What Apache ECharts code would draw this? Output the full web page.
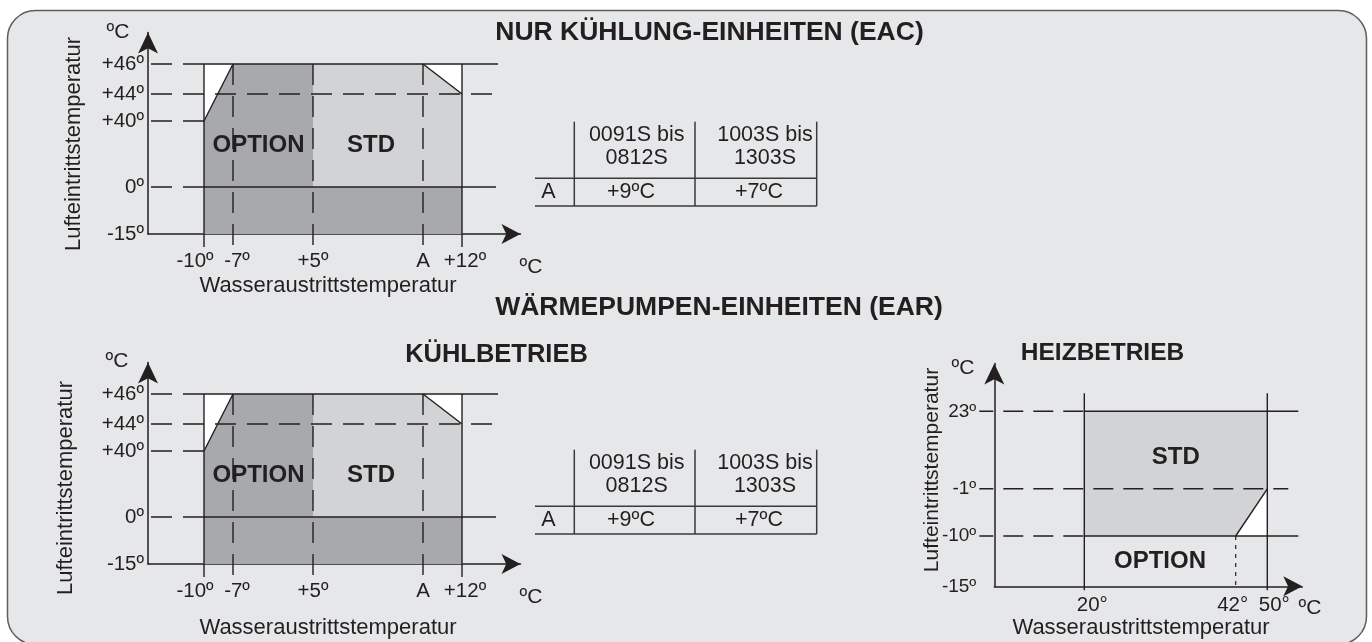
<!DOCTYPE html>
<html><head><meta charset="utf-8">
<script src="https://cdn.jsdelivr.net/npm/echarts@6/dist/echarts.min.js"></script>
<style>html,body{margin:0;padding:0;background:#fff}#c{width:1372px;height:642px}</style>
</head><body><div id="c"></div>
<script>
// ---------------- DATA ----------------
const mainTitles = ['NUR KÜHLUNG-EINHEITEN (EAC)', 'WÄRMEPUMPEN-EINHEITEN (EAR)'];
const subTitles = ['KÜHLBETRIEB', 'HEIZBETRIEB'];
const yAxisTitle = 'Lufteintrittstemperatur';
const xAxisTitle = 'Wasseraustrittstemperatur';
const unitLabel = 'ºC';

// Cooling envelope (same for EAC and EAR cooling mode)
const coolA = 9; // "A" limit (+9ºC for 0091S–0812S, +7ºC for 1003S–1303S)
const coolXTemps = [-10, -7, 5, coolA, 12];
const coolXLabels = ['-10º', '-7º', '+5º', 'A', '+12º'];
const coolYTemps = [-15, 0, 40, 44, 46];
const coolYLabels = ['-15º', '0º', '+40º', '+44º', '+46º'];
const coolEnvelope = [[-10, -15], [-10, 40], [-7, 46], [coolA, 46], [12, 44], [12, -15]];
const coolStd = [[5, 0], [5, 46], [coolA, 46], [12, 44], [12, 0]];
const coolCutLeft = [[-10, 40], [-10, 46], [-7, 46]];
const coolCutRight = [[coolA, 46], [12, 46], [12, 44]];
const coolRegionLabels = ['OPTION', 'STD'];

// Heating envelope
const heatXTemps = [20, 42, 50];
const heatXLabels = ['20°', '42°', '50°'];
const heatYTemps = [-15, -10, -1, 23];
const heatYLabels = ['-15º', '-10º', '-1º', '23º'];
const heatStd = [[20, 23], [50, 23], [50, -1], [42, -10], [20, -10]];
const heatCut = [[42, -10], [50, -1], [50, -10]];
const heatRegionLabels = ['STD', 'OPTION'];

// Table
const tableColHeads = ['0091S bis\n0812S', '1003S bis\n1303S'];
const tableRowHead = 'A';
const tableRowValues = ['+9ºC', '+7ºC'];

// ---------------- LAYOUT (schematic, not-to-scale axes) ----------------
const COOL_X_UNITS = [56, 85, 165, 275, 314];
const COOL_Y_UNITS = [0, 47, 113, 140, 170];
const HEAT_X_UNITS = [90, 241.4, 273];
const HEAT_Y_UNITS = [0, 50.3, 97.5, 175];

const INK = '#231f20';
const DARK = '#a7a9ac', LIGHT = '#d1d3d4', PANEL = '#e6e7e8', WHITE = '#ffffff';
const FONT = '"Liberation Sans", Arial, Helvetica, sans-serif';
const fnt = (s, b) => (b ? 'bold ' : '') + s + 'px ' + FONT;

function scale(temps, units) {
  return function (t) {
    let i = 0;
    while (i < temps.length - 2 && t > temps[i + 1]) i++;
    return units[i] + (t - temps[i]) * (units[i + 1] - units[i]) / (temps[i + 1] - temps[i]);
  };
}
function seg(a, b, dash, off, w) {
  return { type: 'line', shape: { x1: a[0], y1: a[1], x2: b[0], y2: b[1] },
    style: { stroke: INK, lineWidth: w || 1.4, lineDash: dash || null, lineDashOffset: off || 0 } };
}
function poly(pts, fill) { return { type: 'polygon', shape: { points: pts }, style: { fill: fill, stroke: null } }; }
function txt(x, y, text, font) {
  return { type: 'text', x: x, y: y, style: { text: text, font: font, fill: INK, align: 'center', verticalAlign: 'middle', textAlign: 'center', textVerticalAlign: 'middle' } };
}

function coolRender(params, api) {
  const sx = scale(coolXTemps, COOL_X_UNITS), sy = scale(coolYTemps, COOL_Y_UNITS);
  const P = p => api.coord([sx(p[0]), sy(p[1])]);
  const X = t => api.coord([sx(t), 0])[0];
  const Y = t => api.coord([0, sy(t)])[1];
  const o = api.coord([0, 0]);
  const [xm10, xm7, x5, xA, x12] = coolXTemps;
  const [ym15, y0, y40, y44, y46] = coolYTemps;
  const D = [21, 11];
  const ch = [
    poly(coolEnvelope.map(P), DARK),
    poly(coolStd.map(P), LIGHT),
    poly(coolCutLeft.map(P), WHITE),
    poly(coolCutRight.map(P), WHITE),
    seg([o[0] + 3, Y(y46)], [X(xm10) - 20, Y(y46)], D),
    seg([X(xm10) - 20, Y(y46)], [X(x12) + 36, Y(y46)]),
    seg([o[0] + 3, Y(y44)], [X(x12) + 30, Y(y44)], D),
    seg([o[0] + 3, Y(y40)], [X(xm10), Y(y40)], D),
    seg([o[0] + 3, Y(y0)], [X(xm10) - 20, Y(y0)], D),
    seg([X(xm10) - 20, Y(y0)], [X(x12) + 34, Y(y0)]),
    seg([X(xm10), Y(y46)], [X(xm10), o[1] + 13]),
    seg([X(x12), Y(y46)], [X(x12), o[1] + 13]),
    seg([X(xm7), Y(y46)], [X(xm7), o[1] + 13], D),
    seg([X(x5), Y(y46)], [X(x5), o[1] + 13], D),
    seg([X(xA), Y(y46)], [X(xA), o[1] + 13], D),
    seg(P(coolCutLeft[0]), P(coolCutLeft[2])),
    seg(P(coolCutRight[0]), P(coolCutRight[2])),
    txt((X(xm10) + X(x5)) / 2, Y(y40) + 24, coolRegionLabels[0], fnt(24, true)),
    txt((X(x5) + X(xA)) / 2 + 3, Y(y40) + 24, coolRegionLabels[1], fnt(24, true))
  ];
  return { type: 'group', children: ch };
}

function heatRender(params, api) {
  const sx = scale(heatXTemps, HEAT_X_UNITS), sy = scale(heatYTemps, HEAT_Y_UNITS);
  const P = p => api.coord([sx(p[0]), sy(p[1])]);
  const X = t => api.coord([sx(t), 0])[0];
  const Y = t => api.coord([0, sy(t)])[1];
  const o = api.coord([0, 0]);
  const [x20, x42, x50] = heatXTemps;
  const [ym15, ym10, ym1, y23] = heatYTemps;
  const D = [20, 10];
  const ch = [
    poly(heatStd.map(P), LIGHT),
    poly(heatCut.map(P), WHITE),
    seg([o[0] - 15, Y(y23)], [X(x20), Y(y23)], D, 6),
    seg([X(x20), Y(y23)], [X(x50) + 31, Y(y23)]),
    seg([o[0] - 15, Y(ym1)], [X(x50) + 21, Y(ym1)], D, 6),
    seg([o[0] - 15, Y(ym10)], [X(x20), Y(ym10)], D, 6),
    seg([X(x20), Y(ym10)], [X(x50) + 31, Y(ym10)]),
    seg([X(x20), Y(y23) - 18], [X(x20), o[1] + 4]),
    seg([X(x50), Y(y23) - 18], [X(x50), o[1] + 4]),
    seg([X(x42), Y(ym10)], [X(x42), o[1]], [4, 5], 0, 1.2),
    seg(P(heatCut[0]), P(heatCut[1])),
    txt((X(x20) + X(x50)) / 2, Y(y23) + 46, heatRegionLabels[0], fnt(24, true)),
    txt((X(x20) + X(x42)) / 2, (Y(ym10) + o[1]) / 2, heatRegionLabels[1], fnt(24, true))
  ];
  return { type: 'group', children: ch };
}

function labelCfg(units, labels, offsets, margin, fs) {
  const rich = {};
  labels.forEach((l, i) => {
    const d = offsets ? offsets[i] : 0;
    rich['t' + i] = { fontSize: fs, fontFamily: FONT, color: INK,
      padding: d < 0 ? [0, -2 * d, 0, 0] : [0, 0, 0, 2 * d] };
  });
  return {
    customValues: units, margin: margin, fontSize: fs, fontFamily: FONT, color: INK, rich: rich,
    formatter: v => { const i = units.findIndex(u => Math.abs(u - v) < 1e-6); return i < 0 ? '' : '{t' + i + '|' + labels[i] + '}'; }
  };
}
function axisBase(gi, max, symSize) {
  return { gridIndex: gi, type: 'value', min: 0, max: max,
    axisLine: { show: true, onZero: false, symbol: ['none', 'arrow'], symbolSize: symSize, lineStyle: { color: INK, width: 1.5 } },
    axisTick: { show: false }, splitLine: { show: false }, axisPointer: { show: false } };
}

const grids = [
  { left: 148, top: 32.5, width: 372.5, height: 201.5 },
  { left: 148, top: 362.5, width: 372.5, height: 201.5 },
  { left: 994.3, top: 363.5, width: 308, height: 222.8 }
];
const xAxes = [], yAxes = [];
[0, 1].forEach(gi => {
  xAxes.push(Object.assign(axisBase(gi, 372.5, [15, 19]), { axisLabel: labelCfg(COOL_X_UNITS, coolXLabels, [-9, 4, 0, 0, 3], 17, 20.5) }));
  yAxes.push(Object.assign(axisBase(gi, 201.5, [15, 21]), { axisLabel: labelCfg(COOL_Y_UNITS, coolYLabels, null, 4, 20.5) }));
});
xAxes.push(Object.assign(axisBase(2, 308, [15, 19]), { axisLabel: labelCfg(HEAT_X_UNITS, heatXLabels, [8, -3, 7], 9, 20.5) }));
yAxes.push(Object.assign(axisBase(2, 222.8, [15, 21]), { axisLabel: labelCfg(HEAT_Y_UNITS, heatYLabels, null, 18, 19) }));

function gtext(x, y, text, font, rot) {
  return { type: 'text', x: x, y: y, rotation: rot || 0, z: 50,
    style: { text: text, font: font, fill: INK, align: 'center', verticalAlign: 'middle', textAlign: 'center', textVerticalAlign: 'middle' } };
}
function gline(x1, y1, x2, y2) {
  return { type: 'line', z: 50, shape: { x1, y1, x2, y2 }, style: { stroke: '#3a3a3a', lineWidth: 1.5 } };
}
function table(dy) {
  const els = [];
  const xs = [574.3, 695, 816.7];
  xs.forEach(x => els.push(gline(x, 121.7 + dy, x, 206 + dy)));
  els.push(gline(535, 178.3 + dy, 816.7, 178.3 + dy));
  els.push(gline(535, 206 + dy, 816.7, 206 + dy));
  const hc = [636.7, 765], vc = [631, 759];
  tableColHeads.forEach((h, i) => {
    const e = gtext(hc[i], 146.5 + dy, h, fnt(21.5));
    e.style.lineHeight = 22.5;
    els.push(e);
  });
  els.push(gtext(548.5, 192.5 + dy, tableRowHead, fnt(21.5)));
  tableRowValues.forEach((v, i) => els.push(gtext(vc[i], 192.5 + dy, v, fnt(21.5))));
  return els;
}

const graphics = [
  { type: 'rect', z: -10, shape: { x: 7.5, y: 10.5, width: 1359, height: 634, r: 28 }, style: { fill: PANEL, stroke: '#5e5e5e', lineWidth: 1.5 } },
  gtext(709.5, 32.5, mainTitles[0], fnt(26.5, true)),
  gtext(719, 308, mainTitles[1], fnt(26.5, true)),
  gtext(496.5, 355, subTitles[0], fnt(25.5, true)),
  gtext(1102.5, 353, subTitles[1], fnt(24.5, true)),
  // cooling (EAC)
  gtext(118, 32, unitLabel, fnt(21)),
  gtext(531, 267, unitLabel, fnt(21)),
  gtext(74, 144, yAxisTitle, fnt(22), Math.PI / 2),
  gtext(328, 286, xAxisTitle, fnt(22)),
  // cooling (EAR)
  gtext(117, 361, unitLabel, fnt(21)),
  gtext(531, 597, unitLabel, fnt(21)),
  gtext(66, 488, yAxisTitle, fnt(22), Math.PI / 2),
  gtext(328, 628, xAxisTitle, fnt(22)),
  // heating
  gtext(963, 368, unitLabel, fnt(21)),
  gtext(1310, 608, unitLabel, fnt(21)),
  gtext(932, 470, yAxisTitle, fnt(21), Math.PI / 2),
  gtext(1141, 628, xAxisTitle, fnt(22))
].concat(table(0), table(328));

const chart = echarts.init(document.getElementById('c'), null, { renderer: 'canvas' });
chart.setOption({
  backgroundColor: '#ffffff',
  animation: false,
  grid: grids,
  xAxis: xAxes,
  yAxis: yAxes,
  graphic: { elements: graphics },
  series: [
    { type: 'custom', coordinateSystem: 'cartesian2d', xAxisIndex: 0, yAxisIndex: 0, data: [[0, 0]], renderItem: coolRender, clip: false, silent: true, z: 1 },
    { type: 'custom', coordinateSystem: 'cartesian2d', xAxisIndex: 1, yAxisIndex: 1, data: [[0, 0]], renderItem: coolRender, clip: false, silent: true, z: 1 },
    { type: 'custom', coordinateSystem: 'cartesian2d', xAxisIndex: 2, yAxisIndex: 2, data: [[0, 0]], renderItem: heatRender, clip: false, silent: true, z: 1 }
  ]
});
</script></body></html>
